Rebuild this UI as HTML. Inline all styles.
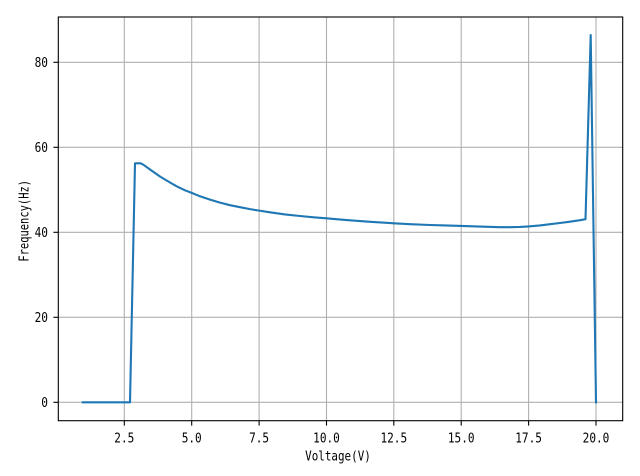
<!DOCTYPE html>
<html><head><meta charset="utf-8"><style>
html,body{margin:0;padding:0;background:#fff;}
svg{display:block;}
text{font-family:"DejaVu Sans Mono","Liberation Mono","WenQuanYi Zen Hei",monospace;font-size:13.6px;fill:#000;}
</style></head><body>
<svg width="640" height="476" viewBox="0 0 640 476" xmlns="http://www.w3.org/2000/svg">
<rect width="640" height="476" fill="#fff"/>
<g stroke="#b0b0b0" stroke-width="1.1" fill="none">
<line x1="124.3" y1="17" x2="124.3" y2="420.7"/>
<line x1="191.7" y1="17" x2="191.7" y2="420.7"/>
<line x1="259.1" y1="17" x2="259.1" y2="420.7"/>
<line x1="326.5" y1="17" x2="326.5" y2="420.7"/>
<line x1="393.8" y1="17" x2="393.8" y2="420.7"/>
<line x1="461.2" y1="17" x2="461.2" y2="420.7"/>
<line x1="528.6" y1="17" x2="528.6" y2="420.7"/>
<line x1="596" y1="17" x2="596" y2="420.7"/>
<line x1="58.3" y1="402.3" x2="622.7" y2="402.3"/>
<line x1="58.3" y1="317.3" x2="622.7" y2="317.3"/>
<line x1="58.3" y1="232.3" x2="622.7" y2="232.3"/>
<line x1="58.3" y1="147.3" x2="622.7" y2="147.3"/>
<line x1="58.3" y1="62.3" x2="622.7" y2="62.3"/>
</g>
<polyline fill="none" stroke="#1f77b4" stroke-width="2.1" stroke-linejoin="round" stroke-linecap="square"
points="82.7,402.3 130,402.3 135,163.3 140.7,163.3 143.5,164.8 150,169.5 160,176.5 170,182.5 176.7,186.3 185,190.3 191.7,192.9 200,196.3 210,199.6 220,202.6 230,205.2 240,207.2 250,209.1 259.2,210.6 270,212.3 285,214.4 300,216.0 315,217.4 326.5,218.3 345,219.9 365,221.4 380,222.4 394,223.3 410,224.2 430,225.0 445,225.4 461.2,225.9 480,226.6 500,227.2 510,227.2 520,226.9 528.6,226.4 540,225.4 550,224.2 560,223.0 570,221.7 580,220.2 585.5,219.2 590.7,35 596,402.3"/>
<rect x="58.3" y="17" width="564.4" height="403.7" fill="none" stroke="#000" stroke-width="1.1"/>
<g stroke="#000" stroke-width="1.1">
<line x1="124.3" y1="420.7" x2="124.3" y2="425.6"/>
<line x1="191.7" y1="420.7" x2="191.7" y2="425.6"/>
<line x1="259.1" y1="420.7" x2="259.1" y2="425.6"/>
<line x1="326.5" y1="420.7" x2="326.5" y2="425.6"/>
<line x1="393.8" y1="420.7" x2="393.8" y2="425.6"/>
<line x1="461.2" y1="420.7" x2="461.2" y2="425.6"/>
<line x1="528.6" y1="420.7" x2="528.6" y2="425.6"/>
<line x1="596" y1="420.7" x2="596" y2="425.6"/>
<line x1="53.4" y1="402.3" x2="58.3" y2="402.3"/>
<line x1="53.4" y1="317.3" x2="58.3" y2="317.3"/>
<line x1="53.4" y1="232.3" x2="58.3" y2="232.3"/>
<line x1="53.4" y1="147.3" x2="58.3" y2="147.3"/>
<line x1="53.4" y1="62.3" x2="58.3" y2="62.3"/>
</g>
<g text-anchor="middle">
<text x="124.3" y="442.3" textLength="20" lengthAdjust="spacingAndGlyphs">2.5</text>
<text x="191.7" y="442.3" textLength="20" lengthAdjust="spacingAndGlyphs">5.0</text>
<text x="259.1" y="442.3" textLength="20" lengthAdjust="spacingAndGlyphs">7.5</text>
<text x="326.5" y="442.3" textLength="26.7" lengthAdjust="spacingAndGlyphs">10.0</text>
<text x="393.8" y="442.3" textLength="26.7" lengthAdjust="spacingAndGlyphs">12.5</text>
<text x="461.2" y="442.3" textLength="26.7" lengthAdjust="spacingAndGlyphs">15.0</text>
<text x="528.6" y="442.3" textLength="26.7" lengthAdjust="spacingAndGlyphs">17.5</text>
<text x="596" y="442.3" textLength="26.7" lengthAdjust="spacingAndGlyphs">20.0</text>
<text x="338" y="460.3" textLength="65.7" lengthAdjust="spacingAndGlyphs">Voltage(V)</text>
</g>
<g text-anchor="end">
<text x="48" y="407" textLength="6.7" lengthAdjust="spacingAndGlyphs">0</text>
<text x="48" y="322" textLength="13.4" lengthAdjust="spacingAndGlyphs">20</text>
<text x="48" y="237" textLength="13.4" lengthAdjust="spacingAndGlyphs">40</text>
<text x="48" y="152" textLength="13.4" lengthAdjust="spacingAndGlyphs">60</text>
<text x="48" y="67" textLength="13.4" lengthAdjust="spacingAndGlyphs">80</text>
</g>
<text transform="translate(28.7,220.8) rotate(-90)" x="0" y="0" text-anchor="middle" textLength="81.7" lengthAdjust="spacingAndGlyphs">Frequency(Hz)</text>
</svg>
</body></html>
